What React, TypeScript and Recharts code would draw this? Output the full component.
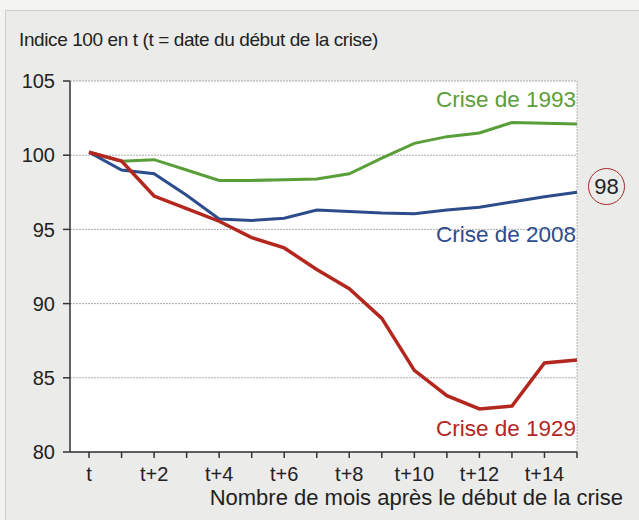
import { LineChart, Line, XAxis, YAxis, CartesianGrid, ReferenceLine } from 'recharts'

// mois après le début de la crise (0 = t)
const months = [0, 1, 2, 3, 4, 5, 6, 7, 8, 9, 10, 11, 12, 13, 14, 15]

const crise1993 = [100.2, 99.6, 99.7, 99.0, 98.3, 98.3, 98.35, 98.4, 98.75, 99.8, 100.8, 101.25, 101.5, 102.2, 102.15, 102.1]
const crise2008 = [100.2, 99.0, 98.75, 97.3, 95.7, 95.6, 95.75, 96.3, 96.2, 96.1, 96.05, 96.3, 96.5, 96.85, 97.2, 97.5]
const crise1929 = [100.2, 99.6, 97.25, 96.4, 95.55, 94.45, 93.75, 92.3, 91.0, 89.0, 85.5, 83.8, 82.9, 83.1, 86.0, 86.2]

const yTicks = [80, 85, 90, 95, 100, 105]

const data = months.map((m, i) => ({
  m,
  c1993: crise1993[i],
  c2008: crise2008[i],
  c1929: crise1929[i],
}))

const font = '"Liberation Sans", Arial, sans-serif'
const green = '#5a9e3a'
const blue = '#2c4c8c'
const red = '#b3271f'

const fmtMonth = (v: number) => (v === 0 ? 't' : v % 2 === 0 ? `t+${v}` : '')

export default function App() {
  return (
    <div style={{ position: 'absolute', left: 0, top: 0, width: 639, height: 520, background: '#f3f3f1', fontFamily: font }}>
      <div style={{ position: 'absolute', left: 5, top: 10, width: 634, height: 510, background: '#ebebe9', borderLeft: '1px solid #cfcfcf', borderTop: '1px solid #cfcfcf' }} />
      <div style={{ position: 'absolute', left: 0, top: 0 }}>
        <LineChart width={639} height={520} data={data} margin={{ top: 81, right: 62, bottom: 38, left: 0 }}>
          <CartesianGrid vertical={false} fill="#ffffff" stroke="#ababab" strokeDasharray="2 1" />
          <ReferenceLine x={15} stroke="#b4b4b4" strokeDasharray="2 1" />
          <XAxis
            dataKey="m"
            type="number"
            domain={[-0.585, 15]}
            ticks={months}
            interval={0}
            tickFormatter={fmtMonth}
            height={30}
            tickSize={6}
            tickMargin={9}
            stroke="#333"
            strokeWidth={1.5}
            tick={{ fill: '#222', fontSize: 20, fontFamily: font }}
          />
          <YAxis
            type="number"
            domain={[80, 105]}
            ticks={yTicks}
            width={70}
            tickSize={7}
            tickMargin={8}
            stroke="#333"
            strokeWidth={1.5}
            tick={{ fill: '#222', fontSize: 20, fontFamily: font }}
          />
          <Line dataKey="c1993" stroke={green} strokeWidth={3} dot={false} isAnimationActive={false} />
          <Line dataKey="c2008" stroke={blue} strokeWidth={3} dot={false} isAnimationActive={false} />
          <Line dataKey="c1929" stroke={red} strokeWidth={3.5} dot={false} isAnimationActive={false} />
        </LineChart>
      </div>

      <div style={{ position: 'absolute', left: 19, top: 30, fontSize: 19, lineHeight: '19px', letterSpacing: '-0.4px', color: '#222', whiteSpace: 'nowrap' }}>
        Indice 100 en t (t = date du début de la crise)
      </div>
      <div style={{ position: 'absolute', right: 63, top: 89, fontSize: 22.5, lineHeight: '22px', color: green, whiteSpace: 'nowrap' }}>
        Crise de 1993
      </div>
      <div style={{ position: 'absolute', right: 63, top: 224, fontSize: 22.5, lineHeight: '22px', color: blue, whiteSpace: 'nowrap' }}>
        Crise de 2008
      </div>
      <div style={{ position: 'absolute', right: 63, top: 418, fontSize: 22.5, lineHeight: '22px', color: red, whiteSpace: 'nowrap' }}>
        Crise de 1929
      </div>
      <div style={{ position: 'absolute', right: 16, top: 487, fontSize: 22, lineHeight: '22px', color: '#222', whiteSpace: 'nowrap' }}>
        Nombre de mois après le début de la crise
      </div>
      <div
        style={{
          position: 'absolute',
          left: 588,
          top: 168,
          width: 35,
          height: 35,
          borderRadius: '50%',
          border: '1.5px solid #a52a2a',
          display: 'flex',
          alignItems: 'center',
          justifyContent: 'center',
          fontSize: 22,
          color: '#222',
        }}
      >
        98
      </div>
    </div>
  )
}
